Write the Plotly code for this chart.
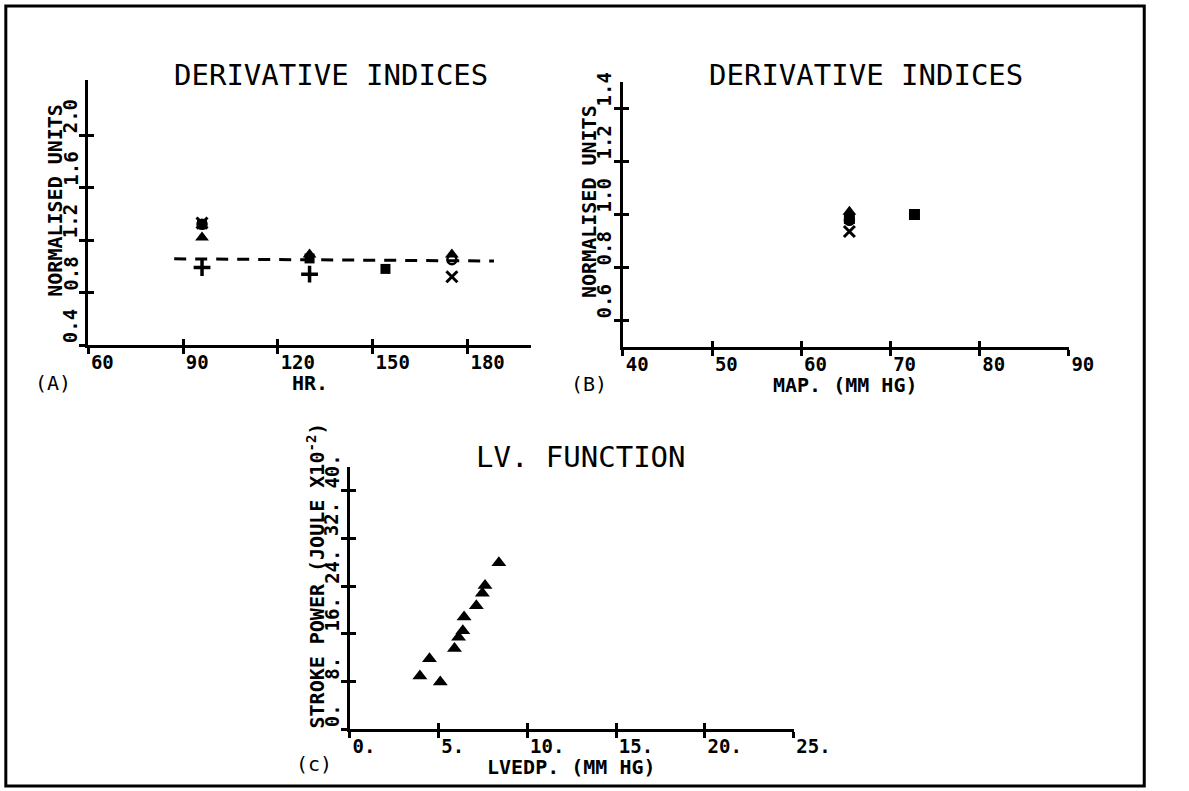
import plotly.graph_objects as go

W, H = 1189, 791

# ---- Panel A: derivative indices against heart rate ----
hr_tri = [96, 130, 175]
idx_tri_a = [1.22, 1.09, 1.09]
hr_sq = [96, 130, 154]
idx_sq_a = [1.32, 1.06, 0.98]
hr_circ = [96, 175]
idx_circ_a = [1.32, 1.05]
hr_x = [96, 175]
idx_x_a = [1.33, 0.92]
hr_plus = [96, 130]
idx_plus_a = [0.99, 0.94]
hr_fit = [87.2, 188.3]
idx_fit = [1.057, 1.040]

# ---- Panel B: derivative indices against mean arterial pressure ----
map_tri = [65.4]
idx_tri_b = [1.01]
map_sq = [65.4, 72.7]
idx_sq_b = [0.985, 1.0]
map_circ = [65.4]
idx_circ_b = [0.978]
map_x = [65.4]
idx_x_b = [0.936]

# ---- Panel C: LV function ----
lvedp = [3.95, 4.49, 5.10, 5.90, 6.13, 6.37, 6.44, 7.13, 7.47, 7.62, 8.40]
stroke_power = [8.9, 11.8, 7.9, 13.5, 15.4, 16.5, 18.8, 20.7, 22.8, 24.1, 27.9]

# ---- axis ticks ----
a_xticks = [60, 90, 120, 150, 180]
a_yticks = [0.4, 0.8, 1.2, 1.6, 2.0]
b_xticks = [40, 50, 60, 70, 80, 90]
b_yticks = [0.6, 0.8, 1.0, 1.2, 1.4]
c_xticks = [0, 5, 10, 15, 20, 25]
c_yticks = [0, 8, 16, 24, 32, 40]

a_xtext = [str(v) for v in a_xticks]
a_ytext = [f"{v:.1f}" for v in a_yticks]
b_xtext = [str(v) for v in b_xticks]
b_ytext = [f"{v:.1f}" for v in b_yticks]
c_xtext = [f"{v}." for v in c_xticks]
c_ytext = [f"{v}." for v in c_yticks]

MONO = "DejaVu Sans Mono"
TICKFONT = dict(family=MONO, size=19, color="black", weight="bold")
LABELFONT = dict(family=MONO, size=20, color="black", weight="bold")
TITLEFONT = dict(family=MONO, size=29, color="black")
PANELFONT = dict(family=MONO, size=20, color="black")

fig = go.Figure()


def add_points(x, y, symbol, xa, ya, size=11, lw=2.5):
    fig.add_trace(go.Scatter(
        x=x, y=y, mode="markers", xaxis=xa, yaxis=ya, showlegend=False,
        marker=dict(symbol=symbol, size=size, color="black",
                    line=dict(color="black", width=lw)),
        hoverinfo="skip"))


# Panel A
fig.add_trace(go.Scatter(x=hr_fit, y=idx_fit, mode="lines", xaxis="x", yaxis="y",
                         showlegend=False, hoverinfo="skip",
                         line=dict(color="black", width=3, dash="12px,9px")))
add_points(hr_tri, idx_tri_a, "triangle-up", "x", "y", size=12, lw=0)
add_points(hr_sq, idx_sq_a, "square", "x", "y", size=10, lw=0)
add_points(hr_circ, idx_circ_a, "circle-open", "x", "y", size=9, lw=2.5)
add_points(hr_x, idx_x_a, "x-thin", "x", "y", size=11, lw=3)
add_points(hr_plus, idx_plus_a, "cross-thin", "x", "y", size=12, lw=3.5)

# Panel B
add_points(map_tri, idx_tri_b, "triangle-up", "x2", "y2", size=12, lw=0)
add_points(map_sq, idx_sq_b, "square", "x2", "y2", size=11, lw=0)
add_points(map_circ, idx_circ_b, "circle-open", "x2", "y2", size=9, lw=2.5)
add_points(map_x, idx_x_b, "x-thin", "x2", "y2", size=11, lw=3)

# Panel C
add_points(lvedp, stroke_power, "triangle-up", "x3", "y3", size=13, lw=0)

# empty traces so the overlay tick axes get drawn
for n in (4, 5, 6):
    fig.add_trace(go.Scatter(x=[None], y=[None], xaxis=f"x{n}", yaxis=f"y{n}",
                             mode="markers", showlegend=False, hoverinfo="skip"))


def px_x(p):
    return p / W


def px_y(p):
    return 1 - p / H


panels = [
    # (suffix, x domain px, y domain px (bottom, top), x range, y range, ticks...)
    ("", (91, 548), (345, 80), [60, 200], [0.4, 2.42], a_xticks, a_xtext, a_yticks),
    ("2", (643, 1103), (347, 82), [40, 90], [0.5, 1.5], b_xticks, b_xtext, b_yticks),
    ("3", (361, 819), (729, 467), [0, 25], [0, 44], c_xticks, c_xtext, c_yticks),
]

layout_axes = {}
for i, (sfx, dx, dy, xr, yr, xt, xtt, yt) in enumerate(panels):
    ov = str(4 + i)
    layout_axes["xaxis" + sfx] = dict(
        domain=[px_x(dx[0]), px_x(dx[1])], range=xr, anchor="y" + sfx,
        showline=True, linecolor="black", linewidth=3, showgrid=False, zeroline=False,
        ticks="outside", ticklen=6, tickwidth=2.5, tickcolor="black",
        tickmode="array", tickvals=xt, ticktext=xtt, tickfont=TICKFONT,
        ticklabelposition="outside right", ticklabelstandoff=-2, fixedrange=True)
    layout_axes["yaxis" + sfx] = dict(
        domain=[px_y(dy[0]), px_y(dy[1])], range=yr, anchor="x" + sfx,
        showline=True, linecolor="black", linewidth=3, showgrid=False, zeroline=False,
        ticks="outside", ticklen=6, tickwidth=2.5, tickcolor="black",
        tickmode="array", tickvals=yt, showticklabels=False, fixedrange=True)
    # overlay axes carrying the inner half of each crossing tick
    layout_axes["xaxis" + ov] = dict(
        overlaying="x" + sfx, anchor="y" + ov, range=xr, side="bottom",
        showline=False, showgrid=False, zeroline=False,
        ticks="inside", ticklen=6, tickwidth=2.5, tickcolor="black",
        tickmode="array", tickvals=xt, showticklabels=False, fixedrange=True)
    layout_axes["yaxis" + ov] = dict(
        overlaying="y" + sfx, anchor="x" + ov, range=yr, side="left",
        showline=False, showgrid=False, zeroline=False,
        ticks="inside", ticklen=6, tickwidth=2.5, tickcolor="black",
        tickmode="array", tickvals=yt, showticklabels=False, fixedrange=True)

annotations = []

# rotated y tick labels, each starting at its tick
for sfx, yt, ytt in (("", a_yticks, a_ytext), ("2", b_yticks, b_ytext), ("3", c_yticks, c_ytext)):
    for v, t in zip(yt, ytt):
        annotations.append(dict(
            text=t, xref=f"x{sfx} domain", x=0, xanchor="right", xshift=-5,
            yref=f"y{sfx}", y=v, yanchor="bottom", textangle=-90,
            showarrow=False, font=TICKFONT))

# axis titles
y_titles = [("", "NORMALISED UNITS", 0.545),
            ("2", "NORMALISED UNITS", 0.551),
            ("3", "STROKE POWER (JOULE X10<sup>-2</sup>)", 0.585)]
for sfx, txt, yy in y_titles:
    annotations.append(dict(
        text=txt, xref=f"x{sfx} domain", x=0, xanchor="center", xshift=-34,
        yref=f"y{sfx} domain", y=yy, yanchor="middle", textangle=-90,
        showarrow=False, font=LABELFONT))

x_titles = [("", "HR."), ("2", "MAP. (MM HG)"), ("3", "LVEDP. (MM HG)")]
for sfx, txt in x_titles:
    annotations.append(dict(
        text=txt, xref=f"x{sfx} domain", x=0.5, xanchor="center",
        yref=f"y{sfx} domain", y=0, yanchor="middle", yshift=-38,
        showarrow=False, font=LABELFONT))

# panel titles
for txt, cx, cy in (("DERIVATIVE INDICES", 342, 75),
                    ("DERIVATIVE INDICES", 894, 75),
                    ("LV. FUNCTION", 600, 457)):
    annotations.append(dict(text=txt, xref="paper", yref="paper", x=px_x(cx), y=px_y(cy),
                            xanchor="center", yanchor="middle", showarrow=False,
                            font=TITLEFONT))

# panel letters
for txt, cx, cy in (("(A)", 55, 383), ("(B)", 608, 384), ("(c)", 324, 764)):
    annotations.append(dict(text=txt, xref="paper", yref="paper", x=px_x(cx), y=px_y(cy),
                            xanchor="center", yanchor="middle", showarrow=False,
                            font=PANELFONT))

# the figure stretches across the full page width; height is fixed
fig.update_layout(
    height=H, autosize=True,
    margin=dict(l=0, r=0, t=0, b=0),
    paper_bgcolor="white", plot_bgcolor="white",
    showlegend=False,
    annotations=annotations,
    shapes=[dict(type="rect", xref="paper", yref="paper",
                 x0=px_x(6), x1=px_x(1181), y0=px_y(786), y1=px_y(6),
                 line=dict(color="black", width=3))],
    **layout_axes)

fig.write_html("out.html", default_width="100%")
